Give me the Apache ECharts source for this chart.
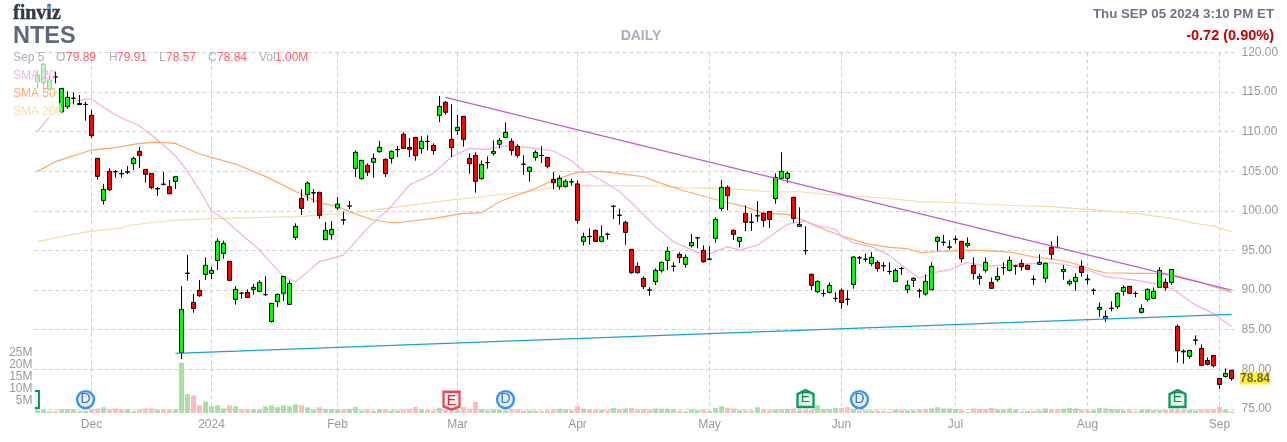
<!DOCTYPE html>
<html><head><meta charset="utf-8"><style>html,body{margin:0;padding:0;background:#fff}#c{width:1287px;height:442px}</style>
<script src="https://cdn.jsdelivr.net/npm/echarts@6/dist/echarts.min.js"></script></head><body><div id="c"></div>
<script>
// rows: open, high, low, close
const ohlc = [
[116.30,117.77,115.45,117.14],[116.17,118.6,115.45,118.52],[115.33,117.14,115.24,116.51],[116.88,117.56,116.09,116.9],[112.47,115.45,112.3,115.45],
[113.14,115.08,112.89,114.32],[114.19,114.95,113.44,114.22],[113.55,114.61,113.35,113.4],[113.44,113.77,111.37,113.41],[112.05,112.72,109.23,109.48],
[106.62,106.62,103.93,104.35],[101.32,103.38,100.78,102.71],[104.98,105.36,102.5,102.67],[104.94,105.15,104.18,104.92],[104.72,105.23,104.18,104.66],
[104.87,105.65,104.64,104.93],[105.95,106.83,105.15,106.62],[107.5,108.05,105.44,107.0],[105.23,105.23,103.55,104.6],[104.73,104.73,102.75,102.92],
[102.82,103.0,101.91,102.76],[103.34,104.9,103.21,103.37],[103.05,103.89,102.08,102.16],[103.72,104.31,102.75,104.31],[82.10,90.51,81.30,87.57],
[92.11,94.42,91.19,92.14],[88.45,89.5,87.15,87.69],[89.97,91.27,89.17,89.29],[91.98,94.13,91.27,93.12],[92.11,92.95,91.4,92.49],
[93.75,96.53,92.53,96.15],[94.63,96.23,93.96,95.9],[93.62,93.62,91.23,91.23],[88.83,90.51,88.16,90.09],[89.59,89.76,88.92,89.62],
[89.71,90.09,89.0,89.08],[90.09,90.76,89.42,90.34],[89.84,91.23,89.8,90.97],[89.42,91.77,89.25,89.45],[86.05,88.33,85.89,88.33],
[88.54,89.59,87.86,89.46],[89.59,91.73,88.66,91.73],[88.2,91.23,88.16,90.85],[96.65,98.42,96.32,98.04],[101.57,102.71,99.47,100.31],
[102.04,103.68,101.28,103.51],[102.25,102.75,101.03,102.28],[102.33,102.4,99.0,99.43],[96.36,98.59,96.36,97.54],[96.99,98.71,96.36,97.66],
[100.35,101.74,100.1,100.86],[98.84,99.89,98.25,98.87],[100.6,101.24,100.23,100.63],[105.36,107.63,104.27,107.38],[104.06,106.37,103.93,106.37],
[105.74,105.99,104.39,104.86],[106.12,107.25,104.18,106.62],[107.46,108.81,107.34,108.01],[106.5,106.62,104.27,104.69],[106.62,107.63,105.95,107.5],
[107.71,108.18,106.79,107.74],[109.65,109.9,107.84,107.88],[108.01,109.19,106.79,107.76],[109.27,109.27,106.33,106.96],[107.84,109.4,107.21,108.77],
[108.77,109.52,107.63,108.74],[108.26,108.51,107.08,107.59],[112.05,114.49,111.2,113.18],[113.69,113.86,112.13,112.43],[109.02,113.44,106.79,107.97],
[110.15,112.09,109.57,110.53],[111.92,111.92,108.09,109.02],[106.62,107.25,104.69,105.95],[107.0,107.38,102.29,103.72],[104.06,106.37,103.93,105.86],
[106.07,106.87,105.32,106.1],[107.25,108.89,106.96,107.5],[108.39,109.19,107.88,108.89],[109.27,111.16,109.23,109.9],[108.77,109.15,107.0,107.63],
[108.14,108.39,106.7,107.0],[105.9,107.0,104.52,105.87],[104.98,105.61,103.68,105.49],[106.75,107.63,106.33,107.38],[107.0,108.14,106.03,106.97],
[106.75,106.75,105.36,105.61],[103.97,104.86,102.71,103.55],[103.09,104.48,102.67,104.1],[103.09,103.97,102.92,103.72],[103.68,104.06,103.21,103.65],
[103.4,103.8,98.38,98.8],[96.15,97.24,95.6,96.74],[96.78,97.79,95.73,96.75],[97.54,97.62,96.11,96.15],[96.15,98.17,96.02,96.74],
[97.03,97.24,96.36,97.06],[100.56,100.69,98.97,100.59],[99.43,100.27,98.25,99.46],[98.55,98.76,95.73,97.28],[95.14,95.14,92.07,92.2],
[92.99,93.5,92.07,92.2],[91.48,91.73,90.13,90.43],[90.0,90.35,89.3,90.03],[91.06,92.74,90.64,92.49],[92.45,93.62,92.2,93.5],
[93.75,95.43,92.53,94.89],[93.0,93.5,92.36,93.03],[94.51,94.76,93.41,94.09],[93.25,94.51,92.83,94.13],[95.6,97.07,95.39,96.02],
[96.57,96.74,95.26,96.6],[95.01,95.64,93.46,93.58],[93.92,95.56,93.75,93.89],[96.53,99.18,95.98,98.92],[100.31,103.89,100.02,102.96],
[102.96,103.21,100.06,101.91],[97.54,97.66,96.32,97.03],[96.15,96.65,95.39,96.65],[99.68,100.69,97.45,98.55],[98.55,99.68,97.45,98.58],
[99.35,101.24,98.59,99.38],[99.68,99.81,97.96,98.8],[99.93,99.93,97.83,98.92],[101.53,104.73,100.9,104.22],[104.1,107.38,103.97,104.98],
[104.1,104.98,103.55,104.73],[101.7,101.78,98.5,99.05],[98.04,100.44,98.0,98.29],[94.97,98.04,94.47,95.0],[91.99,92.07,90.0,90.6],
[89.8,91.23,89.63,91.1],[89.55,90.09,89.17,89.58],[89.71,90.97,89.55,90.6],[88.96,89.71,88.54,88.93],[89.97,90.22,87.65,88.45],
[88.83,89.97,88.1,88.86],[90.72,94.26,90.18,94.17],[94.05,94.3,93.29,94.08],[93.88,94.63,93.54,93.91],[93.33,94.8,93.04,94.13],
[93.5,93.75,92.32,92.74],[93.08,93.54,92.36,93.05],[92.36,93.5,91.98,92.33],[91.1,92.74,91.06,92.49],[92.74,92.95,91.9,92.71],
[90.05,91.23,89.59,90.6],[91.23,91.6,90.39,91.48],[89.92,90.18,89.04,89.89],[89.5,91.98,89.29,91.1],[90.05,93.5,90.05,92.99],
[96.15,96.78,94.93,96.65],[96.02,96.95,95.6,96.05],[95.46,96.27,95.1,95.4],[96.4,96.82,95.9,96.43],[96.15,96.15,93.46,93.96],
[95.64,96.65,95.39,95.9],[93.12,94.13,91.31,92.11],[91.48,92.11,90.68,91.73],[92.49,94.13,92.19,93.5],[90.97,91.6,90.17,90.22],
[91.31,92.87,91.06,91.73],[92.82,93.5,91.94,92.85],[92.49,94.25,92.36,93.75],[93.03,93.16,91.94,93.06],[93.37,93.87,92.45,92.95],
[93.12,93.25,92.53,92.62],[91.35,91.86,90.68,91.38],[93.25,94.51,93.16,93.5],[91.48,93.5,90.93,93.37],[95.39,96.15,93.87,94.51],
[95.39,96.82,95.3,95.36],[92.36,93.16,91.31,92.61],[90.81,91.35,90.55,91.1],[91.1,92.11,89.92,91.6],[92.99,93.75,91.69,92.23],
[91.4,91.98,90.72,91.3],[89.96,90.22,89.42,89.99],[87.57,88.45,86.64,87.82],[86.43,87.44,86.01,86.68],[87.69,88.58,87.31,87.72],
[87.9,89.71,87.61,89.59],[89.84,90.6,89.29,90.34],[90.47,90.47,89.54,89.59],[89.59,89.84,89.08,89.56],[87.19,88.2,87.02,87.69],
[88.83,90.22,88.58,90.09],[88.96,90.34,88.91,89.84],[90.34,92.87,90.3,92.49],[90.97,91.44,89.92,90.3],[90.97,92.61,90.68,92.61],
[85.42,85.67,80.84,82.35],[82.3,82.52,80.71,82.2],[81.64,82.48,81.34,82.39],[83.67,84.29,83.11,83.7],[82.65,83.15,80.46,80.5],
[81.13,81.51,80.5,80.63],[81.76,81.76,80.25,80.46],[78.86,78.86,77.56,78.1],[79.11,80.12,78.94,79.49],[79.89,79.91,78.57,78.84]];
// millions of shares
const volumes = [1.1,1.4,.7,.7,1.5,1.5,1.4,.8,.8,1.8,1.9,2.4,1.5,1.9,1.4,1.5,.7,1.4,1.9,1.9,1.4,1.4,1.4,1.4,20.9,7.8,7.3,3.2,4.8,2.8,3.2,1.9,3.2,2.8,1.5,1.5,1.5,1.4,2.8,3.2,2.4,3.2,2.8,3.6,3.2,2.4,1.4,2.4,
1.7,1.7,1.5,1.4,1.7,2.5,1.1,1.5,.8,1.4,1.5,1.1,1.1,1.4,1.8,2.5,1.7,1.2,1.1,2.1,1.2,.8,1.2,2.5,1.8,4.6,1.7,1.2,1.5,1.4,1.1,1.7,1.5,1,1.1,1,.8,1.1,1.4,1.8,1.5,1.2,2.8,1.8,1.5,1.2,1.4,1.2,2.1,1.5,1.9,
2.2,1.7,1.7,1.4,1.9,1.8,1.8,1.5,1,.7,1.4,1.2,1.4,.7,2.1,2.8,2.2,1.9,1.2,1.1,1,2.4,1.5,1.2,1.5,1.5,1.7,1.9,1.1,1.2,1.2,3.2,1.7,1.7,2.1,2.1,2.4,1.8,1.1,1.2,1.1,1,.8,.7,1.4,1.2,1.2,1.1,1.5,1.7,1.9,2.4,1.9,1.9,1.7,1.2,.4,1.9,1.7,1.7,2.2,1.4,1.4,1.9,1.5,.7,.8,1,1.1,1.9,1.5,1.5,1.8,2.1,1.9,1.4,1.1,1.1,2.1,1.9,1.7,1.5,1.2,1.4,.7,1.2,1.4,1.2,1.2,1.4,1.7,1.2,1.2,1.2,1.2,1.5,1.5,1.5,2.5,1.5,.7];
// 1 = green volume bar, 0 = red
const volumeUp = [1,1,1,0,1,1,1,1,1,0,0,1,0,0,0,1,1,0,0,0,1,0,0,1,1,1,0,0,1,1,1,1,0,1,0,0,1,1,1,1,1,1,1,1,0,1,1,0,
1,1,1,0,1,1,1,0,1,1,0,1,1,0,0,0,1,0,0,1,0,0,1,0,0,0,1,1,1,1,1,0,0,0,1,1,0,0,0,1,1,0,0,1,0,0,1,0,1,0,1,
0,0,0,0,1,1,1,1,0,1,1,1,0,1,1,1,0,0,1,0,0,1,0,0,1,1,1,0,1,0,0,1,1,1,1,0,0,1,0,1,1,0,0,0,1,0,1,1,0,0,1,1,1,1,1,0,1,0,0,0,0,1,1,1,1,0,1,0,1,1,0,0,1,1,1,0,0,1,1,1,1,1,1,0,0,1,1,1,1,0,0,0,0,1,1,0,0,0,0,1,0];
const sma20 = [[0,110],[2,111.9],[4,112.93],[6,113.77],[8,114.1],[9,114.1],[11,113.06],[13,112.09],[17,110.7],[19,109.57],[21,108.3],[23,106.92],[25,104.94],[27,102.63],[29,99.98],[31,99.0],[37,95.05],[41,91.69],[43,91.06],[45,92.3],[47,93.6],[51,94.42],[52,95.26],[55,97.79],[59,100.6],[62,103.26],[66,104.73],[69,106.83],[72,107.88],[75,107.76],[78,108.2],[82,107.97],[86,107.55],[89,106.33],[91,105.06],[94,103.85],[97,102.45],[100,100.3],[103,98.0],[106,96.1],[110,94.76],[112,94.55],[115,95.48],[117,95.05],[120,95.68],[122,96.74],[125,98.3],[128,98.7],[130,98.12],[133,97.7],[134,96.82],[136,95.95],[139,95.48],[142,94.38],[145,92.53],[147,91.5],[150,92.32],[152,92.53],[155,93.5],[158,93.03],[164,93.29],[169,93.45],[172,93.1],[175,92.53],[178,91.69],[183,91.25],[186,90.85],[189,90.22],[193,88.11],[196,87.06],[199,85.38]];
const sma50 = [[0,104.98],[3,106.2],[9,107.67],[13,107.97],[17,108.51],[20,108.68],[23,108.51],[27,107.17],[33,105.9],[38,104.35],[44,102.05],[47,101.0],[50,100.52],[53,99.6],[56,98.84],[59,98.5],[60,98.5],[66,99.05],[71,99.68],[74,99.75],[77,101.15],[80,102.0],[83,102.8],[86,103.89],[90,104.86],[94,104.98],[97,104.7],[101,104.3],[104,103.47],[108,102.47],[113,101.43],[118,100.5],[121,99.68],[125,99.55],[128,98.7],[130,98.0],[134,96.82],[138,95.9],[142,95.39],[145,95.22],[147,94.74],[150,94.84],[155,95.05],[158,94.97],[162,94.8],[166,94.21],[171,93.7],[173,93.29],[176,92.53],[178,92.19],[183,92.11],[187,92.11],[190,91.77],[193,91.18],[196,90.47],[199,89.71]];
const sma200 = [[0,96.11],[5,96.9],[9,97.45],[14,97.81],[15,98.15],[19,98.5],[23,98.84],[31,99.05],[38,99.18],[44,99.26],[47,99.49],[53,99.76],[56,100.1],[62,100.7],[68,101.28],[75,101.87],[82,102.41],[86,102.96],[90,103.21],[97,103.19],[104,103.13],[108,102.9],[115,102.8],[122,102.41],[127,102.41],[134,101.91],[141,101.62],[147,101.17],[153,101.02],[164,100.64],[169,100.52],[175,100.18],[183,99.68],[189,99.05],[193,98.42],[196,98.08],[199,97.37]];
const resistance = [[68,114.32],[199,90.0]];
const support = [[23,82.02],[199,86.94]];
const monthTicks = {9:'Dec',29:'2024',50:'Feb',70:'Mar',90:'Apr',112:'May',134:'Jun',153:'Jul',175:'Aug',197:'Sep'};
const volumeTicks = ['5M','10M','15M','20M','25M'];
const dividends = [8,78,137];
const earningsDown = [69];
const earningsUp = [128,190];
const lastClose = 78.84;

const FONT = '"Liberation Sans", Arial, sans-serif';
const categories = ohlc.map((_, i) => monthTicks[i] || '');
const candleData = ohlc.map(r => [r[0], r[3], r[2], r[1]]);
const volumeData = volumes.map((v, i) => ({value: v, itemStyle: {color: volumeUp[i] ? '#abdfa6' : '#ffbcbc'}}));
const isMonth = i => monthTicks[i] !== undefined;

const text = (t, x, y, font, fill, align, extra) => ({type: 'text', z: 100, silent: true,
  style: Object.assign({text: t, x, y, font: font + ' ' + FONT, fill, textAlign: align || 'left', textVerticalAlign: 'middle'}, extra || {})});
const statRow = [['Sep 5',13,'#a9afbf'],['O',56,'#a9afbf'],['79.89',66,'#ff5d68'],['H',109,'#a9afbf'],['79.91',117,'#ff5d68'],['L',159,'#a9afbf'],['78.57',166,'#ff5d68'],['C',208,'#a9afbf'],['78.84',217,'#ff5d68'],['Vol',259,'#a9afbf'],['1.00M',275,'#ff5d68']];
const veil = 'rgba(255,255,255,0.72)';
const graphic = [
  {type:'rect', z:99, silent:true, shape:{x:34,y:62,width:19,height:41}, style:{fill:veil}},
  {type:'rect', z:99, silent:true, shape:{x:34,y:103,width:26.5,height:15}, style:{fill:veil}},
  {type:'text', z:100, silent:true, style:{text:'finviz', x:13, y:14, font:'bold 20px "Liberation Serif", serif', fill:'#333a45', textVerticalAlign:'middle', stroke:'#333a45', lineWidth:0.4}},
  {type:'circle', z:101, silent:true, shape:{cx:49, cy:7.3, r:2}, style:{fill:'#5aa9f0'}},
  text('NTES',13,37,'bold 23.5px','#5f6880'),
  text('DAILY',641,36.5,'bold 14px','#a6aec0','center'),
  text('Thu SEP 05 2024 3:10 PM ET',1274,14,'bold 13.3px','#6c7489','right'),
  text('-0.72 (0.90%)',1274,36,'bold 14.5px','#c80000','right'),
  ...statRow.map(r => text(r[0],r[1],58,'12px',r[2])),
  text('SMA 20',13,76,'12px','#f3b5e3'),
  text('SMA 50',13,94,'12px','#ffab70'),
  text('SMA 200',13,112,'12px','#f7e2ae'),
  {type:'rect', z:90, silent:true, shape:{x:34.5,y:391,width:4.5,height:17}, style:{fill:'#e8f7ec'}},
  {type:'polyline', z:91, silent:true, shape:{points:[[35,391],[39,391],[39,408],[35,408]]}, style:{fill:null, stroke:'#0a9b55', lineWidth:2}}
];

const lineOpts = (name, data, color, width) => ({name, type:'line', xAxisIndex:0, yAxisIndex:0, data, symbol:'none', smooth:false, silent:true, lineStyle:{color, width: width || 1.2}, connectNulls:true, clip:false});
const markerSeries = (name, idx, level, symbol, size, fill, stroke, label, labelColor) => ({
  name, type:'scatter', xAxisIndex:1, yAxisIndex:1, z:20, silent:true, symbol, symbolSize:size, symbolKeepAspect:false,
  data: idx.map(i => [i, level]), itemStyle:{color:fill, borderColor:stroke, borderWidth:2.4, opacity:1},
  label:{show:true, position:'inside', formatter:label, color:labelColor, fontFamily:FONT, fontSize:14}
});

const chart = echarts.init(document.getElementById('c'), null, {renderer:'canvas'});
chart.setOption({
  animation:false, backgroundColor:'#fff',
  grid:[{left:34.5, top:52.3, width:1200, height:356.7},{left:34.5, top:52.3, width:1200, height:360.7}],
  xAxis:[
    {type:'category', gridIndex:0, data:categories, show:false},
    {type:'category', gridIndex:1, data:categories, axisLine:{show:false}, axisTick:{show:false, alignWithLabel:true},
     axisLabel:{interval:0, color:'#999', fontFamily:FONT, fontSize:12, margin:6, hideOverlap:false},
     splitLine:{show:true, alignWithLabel:true, interval:(i)=>isMonth(i), lineStyle:{color:'#cfcfcf', type:[4,3], width:1}}}
  ],
  yAxis:[
    {type:'value', gridIndex:0, position:'right', min:75, max:120, interval:5, axisLine:{show:false}, axisTick:{show:false},
     axisLabel:{color:'#999', fontFamily:FONT, fontSize:12, margin:7, padding:[0,0,2,0], formatter:v=>v.toFixed(2)},
     splitLine:{show:true, lineStyle:{color:'#cfcfcf', type:[4,3], width:1}}},
    {type:'value', gridIndex:1, position:'left', min:0, max:150, interval:5, axisLine:{show:false}, axisTick:{show:false}, splitLine:{show:false},
     axisLabel:{color:'#999', fontFamily:FONT, fontSize:12, margin:2, padding:[0,0,6,0], showMinLabel:true, formatter:v=>volumeTicks[v/5-1]||''}}
  ],
  graphic,
  series:[
    {name:'Volume', type:'bar', xAxisIndex:1, yAxisIndex:1, data:volumeData, barWidth:5, silent:true, z:1},
    lineOpts('SMA 200', sma200, '#f5dda3'),
    lineOpts('SMA 50', sma50, '#ffa765'),
    lineOpts('SMA 20', sma20, '#f2aee2'),
    {name:'NTES', type:'candlestick', xAxisIndex:0, yAxisIndex:0, data:candleData, barWidth:4, silent:true, z:5, clip:false,
     itemStyle:{color:'#00ff00', color0:'#ff0000', borderColor:'#000', borderColor0:'#000', borderWidth:1}},
    Object.assign(lineOpts('Resistance', resistance, '#be5cd6', 1.3), {z:6}),
    Object.assign(lineOpts('Support', support, '#1a9ede', 1.3), {z:6}),
    {name:'Last', type:'scatter', xAxisIndex:0, yAxisIndex:0, z:30, silent:true, symbolSize:1, clip:false, itemStyle:{color:'rgba(0,0,0,0)'},
     data:[[199,lastClose]],
     label:{show:true, position:'inside', offset:[23.5,0], formatter:()=>lastClose.toFixed(2), backgroundColor:'#ffee00', color:'#444', fontFamily:FONT, fontWeight:'bold', fontSize:12, width:30, height:12, lineHeight:12, align:'center', verticalAlign:'middle'}},
    markerSeries('Dividends', dividends, 5.57, 'circle', 17, '#e6f1fd', '#3b93f0', 'D', '#3f6fd0'),
    markerSeries('Earnings miss', earningsDown, 5.1, 'path://M0,0 L16,0 L16,14 L8,17 L0,14 Z', [16,18], '#fdecee', '#f0434f', 'E', '#e0283c'),
    markerSeries('Earnings beat', earningsUp, 6.0, 'path://M0,4 L8,0 L16,4 L16,17 L0,17 Z', [16,17], '#e8f7ec', '#0a9b55', 'E', '#0f8a50')
  ]
});
</script></body></html>
